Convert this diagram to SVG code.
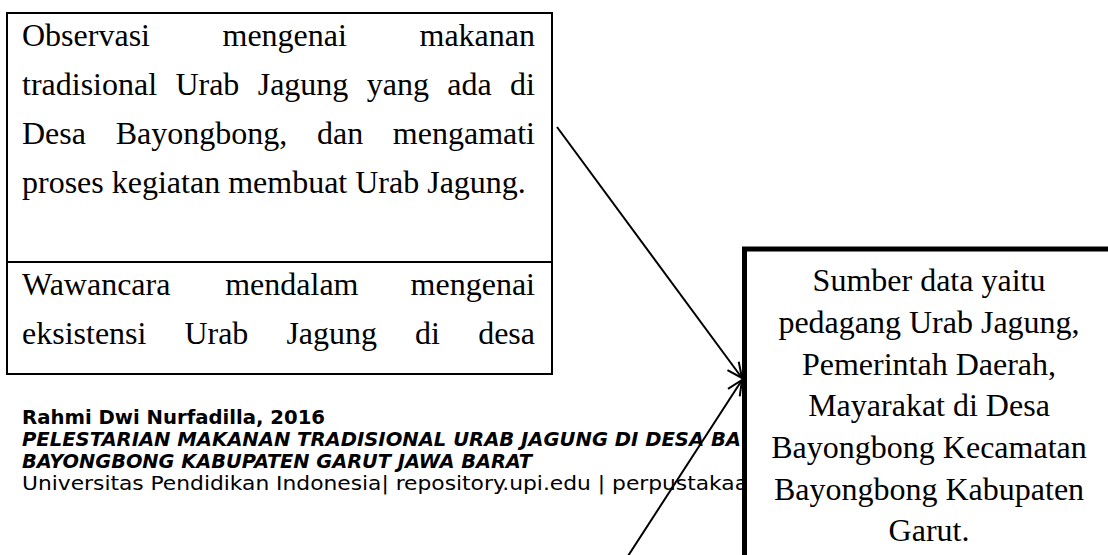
<svg xmlns="http://www.w3.org/2000/svg" width="1108" height="555" viewBox="0 0 1108 555">
<style>
.bg{fill:#ffffff}
.box{fill:#ffffff;stroke:#000000;stroke-width:2}
.bbox{fill:#ffffff;stroke:#000000;stroke-width:5}
.t{font-family:"Liberation Serif","Times New Roman",serif;font-size:32px;fill:#000000}
.c{text-anchor:middle}
.f{font-family:"DejaVu Sans Condensed","DejaVu Sans","Liberation Sans Narrow",sans-serif;font-stretch:condensed;font-size:20px;fill:#000000}
.fb{font-weight:bold}
.fi{font-weight:bold;font-style:italic}
.conn{stroke:#000000;stroke-width:2;fill:none}
</style>
<defs>
<marker id="arr" markerUnits="userSpaceOnUse" markerWidth="30" markerHeight="30" viewBox="-20 -15 30 30" refX="0" refY="0" orient="auto">
<path d="M-15,-7 L0,0 L-15,7" fill="none" stroke="#000000" stroke-width="2"/>
</marker>
</defs>
<rect class="bg" x="0" y="0" width="1108" height="555"/>

<g id="footer">
<text class="f fb" x="22" y="424" textLength="303" lengthAdjust="spacingAndGlyphs">Rahmi Dwi Nurfadilla, 2016</text>
<text class="f fi" x="22" y="446" textLength="719" lengthAdjust="spacingAndGlyphs">PELESTARIAN MAKANAN TRADISIONAL URAB JAGUNG DI DESA BA</text>
<text class="f fi" x="22" y="468" textLength="510" lengthAdjust="spacingAndGlyphs">BAYONGBONG KABUPATEN GARUT JAWA BARAT</text>
<text class="f" x="22" y="490" textLength="726" lengthAdjust="spacingAndGlyphs">Universitas Pendidikan Indonesia| repository.upi.edu | perpustakaa</text>
</g>

<g id="node-methods">
<rect class="box" x="7" y="13" width="545" height="361"/>
<line class="conn" x1="7" y1="262" x2="552" y2="262"/>
<g id="node-observasi">
<text class="t" y="46"><tspan x="22">Observasi</tspan><tspan x="222.5">mengenai</tspan><tspan x="535" text-anchor="end">makanan</tspan></text>
<text class="t" y="95"><tspan x="22">tradisional</tspan><tspan x="175.4">Urab</tspan><tspan x="257.7">Jagung</tspan><tspan x="366.7">yang</tspan><tspan x="447.2">ada</tspan><tspan x="535" text-anchor="end">di</tspan></text>
<text class="t" y="144"><tspan x="22">Desa</tspan><tspan x="115.7">Bayongbong,</tspan><tspan x="317">dan</tspan><tspan x="535" text-anchor="end">mengamati</tspan></text>
<text class="t" x="22" y="193">proses kegiatan membuat Urab Jagung.</text>
</g>
<g id="node-wawancara">
<text class="t" y="295"><tspan x="22">Wawancara</tspan><tspan x="225.2">mendalam</tspan><tspan x="535" text-anchor="end">mengenai</tspan></text>
<text class="t" y="344"><tspan x="22">eksistensi</tspan><tspan x="184.4">Urab</tspan><tspan x="286.4">Jagung</tspan><tspan x="415.1">di</tspan><tspan x="535" text-anchor="end">desa</tspan></text>
</g>
</g>

<g id="connectors">
<line class="conn" x1="557" y1="127" x2="742" y2="378" marker-end="url(#arr)"/>
<line class="conn" x1="628" y1="556" x2="742" y2="380" marker-end="url(#arr)"/>
</g>

<g id="node-sumber">
<rect class="bbox" x="744.5" y="249" width="400" height="340"/>
<text class="t c" x="929" y="291">Sumber data yaitu</text>
<text class="t c" x="929" y="333">pedagang Urab Jagung,</text>
<text class="t c" x="929" y="375">Pemerintah Daerah,</text>
<text class="t c" x="929" y="416">Mayarakat di Desa</text>
<text class="t c" x="929" y="458">Bayongbong Kecamatan</text>
<text class="t c" x="929" y="500">Bayongbong Kabupaten</text>
<text class="t c" x="929" y="541">Garut.</text>
</g>
</svg>
